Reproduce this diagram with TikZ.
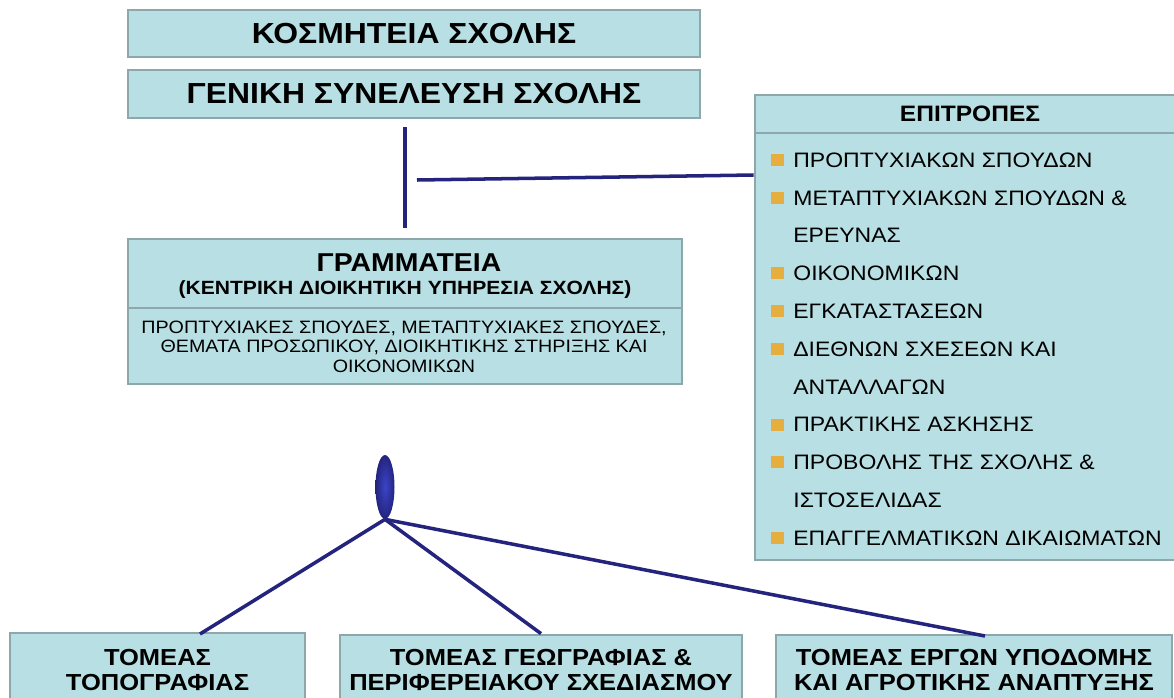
\documentclass[tikz,border=0pt]{standalone}
\usepackage{fontspec}
\setmainfont{Liberation Sans}[FakeStretch=1.1]
\usetikzlibrary{shapes.geometric}
\definecolor{boxfill}{HTML}{B8DFE3}
\definecolor{boxline}{HTML}{8DA7AA}
\definecolor{linknavy}{HTML}{24247E}
\definecolor{hubblue}{HTML}{3A44C8}
\definecolor{bulletgold}{HTML}{E6AE3E}
\tikzset{
  unitbox/.style={draw=boxline, fill=boxfill, line width=1.6pt, inner sep=0pt, align=center},
  link/.style={draw=linknavy, line width=2pt},
  bulletsq/.style={fill=bulletgold, minimum width=0.26cm, minimum height=0.24cm, inner sep=0pt},
  itemtext/.style={anchor=west, inner sep=0pt, font=\fontsize{11.9}{14}\selectfont},
  sectorbox/.style={unitbox, font=\bfseries\fontsize{13.2}{14.6}\selectfont},
}
\begin{document}
\begin{tikzpicture}[x=0.02cm, y=-0.02cm]
        \useasboundingbox (0,0) rectangle (1174,697);
        \clip (0,0) rectangle (1174,697);
        \fill[white] (0,0) rectangle (1174,697);

        \node[unitbox, minimum width=11.44cm, minimum height=0.94cm, font=\bfseries\fontsize{16.5}{19}\selectfont] (kosm) at (414,33.5) {ΚΟΣΜΗΤΕΙΑ ΣΧΟΛΗΣ};
        \node[unitbox, minimum width=11.44cm, minimum height=0.96cm, font=\bfseries\fontsize{16.5}{19}\selectfont] (gensyn) at (414,94) {ΓΕΝΙΚΗ ΣΥΝΕΛΕΥΣΗ ΣΧΟΛΗΣ};

        \node[unitbox, minimum width=11.08cm, minimum height=2.9cm] (gram) at (405,311.5) {};
        \draw[boxline, line width=1.6pt] (128,308) -- (682,308);
        \node[font=\bfseries\fontsize{14.7}{17}\selectfont, inner sep=0pt] (gramtitle) at (409,263) {ΓΡΑΜΜΑΤΕΙΑ};
        \node[font=\bfseries\fontsize{10.9}{13}\selectfont, inner sep=0pt] (gramsub) at (405,290) {(ΚΕΝΤΡΙΚΗ ΔΙΟΙΚΗΤΙΚΗ ΥΠΗΡΕΣΙΑ ΣΧΟΛΗΣ)};
        \node[font=\fontsize{10.2}{11}\selectfont, inner sep=0pt, align=center] (gramtasks) at (404,346.5) {ΠΡΟΠΤΥΧΙΑΚΕΣ ΣΠΟΥΔΕΣ, ΜΕΤΑΠΤΥΧΙΑΚΕΣ ΣΠΟΥΔΕΣ,\\ ΘΕΜΑΤΑ ΠΡΟΣΩΠΙΚΟΥ, ΔΙΟΙΚΗΤΙΚΗΣ ΣΤΗΡΙΞΗΣ ΚΑΙ\\ ΟΙΚΟΝΟΜΙΚΩΝ};

        \node[unitbox, minimum width=8.42cm, minimum height=9.3cm] (epit) at (965.5,327.5) {};
        \draw[boxline, line width=1.6pt] (755,133) -- (1176,133);
        \node[font=\bfseries\fontsize{12.7}{15}\selectfont, inner sep=0pt] (epittitle) at (970,114) {ΕΠΙΤΡΟΠΕΣ};
        \foreach \txt/\hasbul [count=\k from 0] in {ΠΡΟΠΤΥΧΙΑΚΩΝ ΣΠΟΥΔΩΝ/1, ΜΕΤΑΠΤΥΧΙΑΚΩΝ ΣΠΟΥΔΩΝ \&/1, ΕΡΕΥΝΑΣ/0,
            ΟΙΚΟΝΟΜΙΚΩΝ/1, ΕΓΚΑΤΑΣΤΑΣΕΩΝ/1, ΔΙΕΘΝΩΝ ΣΧΕΣΕΩΝ ΚΑΙ/1, ΑΝΤΑΛΛΑΓΩΝ/0,
            ΠΡΑΚΤΙΚΗΣ ΑΣΚΗΣΗΣ/1, ΠΡΟΒΟΛΗΣ ΤΗΣ ΣΧΟΛΗΣ \&/1, ΙΣΤΟΣΕΛΙΔΑΣ/0, ΕΠΑΓΓΕΛΜΑΤΙΚΩΝ ΔΙΚΑΙΩΜΑΤΩΝ/1} {
            \node[itemtext] (item\k) at (793,{160+37.8*\k}) {\txt};
            \ifnum\hasbul=1
                \node[bulletsq] (bul\k) at (777,{160+37.8*\k}) {};
            \fi
        }

        \node[ellipse, minimum width=0.38cm, minimum height=1.28cm, inner sep=0pt, inner color=hubblue, outer color=linknavy] (hub) at (385,487) {};

        \node[sectorbox, minimum width=5.9cm, minimum height=1.48cm] (topo) at (157.5,670) {ΤΟΜΕΑΣ\\ ΤΟΠΟΓΡΑΦΙΑΣ};
        \node[sectorbox, minimum width=8.04cm, minimum height=1.4cm] (geo) at (541,670) {ΤΟΜΕΑΣ ΓΕΩΓΡΑΦΙΑΣ \&\\ ΠΕΡΙΦΕΡΕΙΑΚΟΥ ΣΧΕΔΙΑΣΜΟΥ};
        \node[sectorbox, minimum width=7.92cm, minimum height=1.4cm] (erga) at (974,670) {ΤΟΜΕΑΣ ΕΡΓΩΝ ΥΠΟΔΟΜΗΣ\\ ΚΑΙ ΑΓΡΟΤΙΚΗΣ ΑΝΑΠΤΥΞΗΣ};

        \coordinate (stemtop) at (405,127);
        \coordinate (stembot) at (405,228);
        \coordinate (branch) at (417,180);
        \coordinate (topopin) at (200,634);
        \coordinate (erpin) at (985,636);

        \draw[link] (stemtop) -- (stembot);
        \draw[link] (branch) -- (epit.west |- 0,175);
        \draw[link] (hub.south) -- (topopin);
        \draw[link] (hub.south) -- (geo.north);
        \draw[link] (hub.south) -- (erpin);

    \end{tikzpicture}
\end{document}
